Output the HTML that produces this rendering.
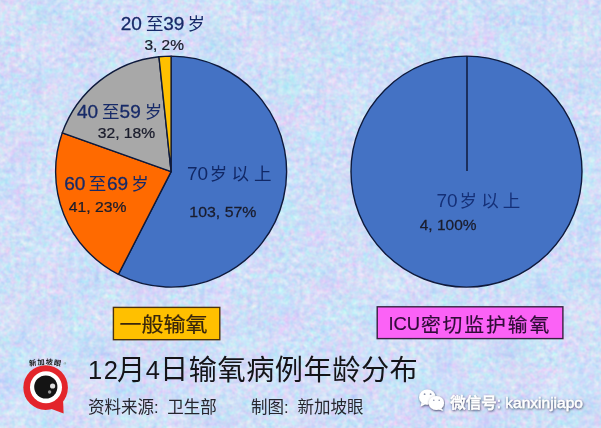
<!DOCTYPE html>
<html lang="zh"><head><meta charset="utf-8"><title>12月4日输氧病例年龄分布</title>
<style>
html,body{margin:0;padding:0;background:#d0dcf7;}
body{width:601px;height:428px;overflow:hidden;position:relative;font-family:"Liberation Sans","Noto Sans CJK SC",sans-serif;}
svg{position:absolute;left:0;top:0;display:block}
text{font-family:"Liberation Sans","Noto Sans CJK SC",sans-serif;}
.kai{font-weight:400;fill:#172a68;stroke:#172a68;stroke-width:0.3px}
.kaic{fill:#172a68}
.kai2{fill:#153078}
.kai3{fill:#112866}
.num{font-family:"Liberation Sans",sans-serif;fill:#1a1c2c;stroke:#1a1c2c;stroke-width:0.25px}
.box1{fill:#38260c;stroke:#38260c;stroke-width:0.2px}
.box2{fill:#300c38;stroke:#300c38;stroke-width:0.2px}
.title{fill:#141418}
.sub{fill:#26262e}
.wm{fill:#fff;font-weight:500;stroke:#fff;stroke-width:0.35px}
.logo{font-weight:700;fill:#1a1a1a}
</style></head><body>
<svg width="601" height="428" viewBox="0 0 601 428">
<defs>
<filter id="noise" x="0" y="0" width="100%" height="100%" color-interpolation-filters="sRGB">
<feTurbulence type="fractalNoise" baseFrequency="0.03" numOctaves="2" seed="11" result="lo"/>
<feTurbulence type="fractalNoise" baseFrequency="0.19" numOctaves="2" seed="3" result="hi"/>
<feComposite in="lo" in2="hi" operator="arithmetic" k1="0" k2="0.35" k3="0.65" k4="0"/>
<feColorMatrix type="matrix" values="0.42 0 0 0 0.602  0 0.30 0 0 0.72  0 0 0.08 0 0.93  0 0 0 0 1"/>
</filter>
<filter id="sh" x="-5%" y="-30%" width="110%" height="160%">
<feDropShadow dx="0.5" dy="0.9" stdDeviation="0.8" flood-color="#3c4262" flood-opacity="1"/>
</filter>
</defs>
<rect width="601" height="428" fill="#d0dcf7"/>
<rect width="601" height="428" filter="url(#noise)"/>
<path d="M171.1,171.6 L171.10,56.10 A115.5,115.5 0 1 1 118.39,274.37 Z" fill="#4472c4" stroke="#0e1a3c" stroke-width="1.4" stroke-linejoin="round"/>
<path d="M171.1,171.6 L118.39,274.37 A115.5,115.5 0 0 1 62.30,132.84 Z" fill="#ff6a00" stroke="#0e1a3c" stroke-width="1.4" stroke-linejoin="round"/>
<path d="M171.1,171.6 L62.30,132.84 A115.5,115.5 0 0 1 158.96,56.74 Z" fill="#a8a8a8" stroke="#0e1a3c" stroke-width="1.4" stroke-linejoin="round"/>
<path d="M171.1,171.6 L158.96,56.74 A115.5,115.5 0 0 1 171.10,56.10 Z" fill="#ffc000" stroke="#0e1a3c" stroke-width="1.4" stroke-linejoin="round"/>
<circle cx="466.5" cy="171.6" r="115.5" fill="#4472c4" stroke="#0e1a3c" stroke-width="1.4"/>
<line x1="467" y1="56.099999999999994" x2="467" y2="171.1" stroke="#0e1a3c" stroke-width="1.5"/>

<rect x="113.4" y="307.4" width="106.4" height="32.3" fill="#ffc000" stroke="#4a3210" stroke-width="1.4"/>
<rect x="377.2" y="306.8" width="185.7" height="31.8" fill="#fb62f6" stroke="#36203f" stroke-width="1.4"/>
<text><tspan class="kai" x="120.75" y="30.20" font-size="19">20</tspan><tspan class="kaic" x="146.05" y="30.20" font-size="17.5">至</tspan><tspan class="kai" x="163.15" y="30.20" font-size="19">39</tspan><tspan class="kaic" x="187.55" y="30.20" font-size="17.5">岁</tspan></text>
<text><tspan class="kai" x="76.95" y="118.40" font-size="19">40</tspan><tspan class="kaic" x="102.05" y="118.40" font-size="17.5">至</tspan><tspan class="kai" x="119.60" y="118.40" font-size="19">59</tspan><tspan class="kaic" x="144.75" y="118.40" font-size="17.5">岁</tspan></text>
<text><tspan class="kai" x="64.15" y="190.20" font-size="19">60</tspan><tspan class="kaic" x="88.80" y="190.20" font-size="17.5">至</tspan><tspan class="kai" x="107.03" y="190.20" font-size="19">69</tspan><tspan class="kaic" x="131.20" y="190.20" font-size="17.5">岁</tspan></text>
<text><tspan class="kai3" x="187.00" y="180.30" font-size="19">70</tspan><tspan class="kai3" x="209.85" y="180.30" font-size="17.5">岁</tspan><tspan class="kai3" x="231.55" y="180.30" font-size="17.5">以</tspan><tspan class="kai3" x="253.93" y="180.30" font-size="17.5">上</tspan></text>
<text><tspan class="kai2" x="436.40" y="206.60" font-size="19">70</tspan><tspan class="kai2" x="459.40" y="206.60" font-size="17.5">岁</tspan><tspan class="kai2" x="481.15" y="206.60" font-size="17.5">以</tspan><tspan class="kai2" x="502.68" y="206.60" font-size="17.5">上</tspan></text>
<text class="num" transform="translate(144.38,49.70) scale(1.0309,1)" font-size="15">3, 2%</text>
<text class="num" transform="translate(97.78,138.10) scale(1.0426,1)" font-size="15">32, 18%</text>
<text class="num" transform="translate(68.74,212.40) scale(1.0488,1)" font-size="15">41, 23%</text>
<text class="num" transform="translate(189.37,216.70) scale(1.0602,1)" font-size="15">103, 57%</text>
<text class="num" transform="translate(419.74,229.60) scale(1.0323,1)" font-size="15">4, 100%</text>
<text class="box1" transform="translate(119.51,332.15) scale(1.0855,1)" font-size="20.3">一般输氧</text>
<text><tspan class="box2" x="388.45" y="329.60" font-size="18.4">ICU</tspan><tspan class="box2" x="420.90" y="331.80" font-size="19.8" letter-spacing="1.95">密切监护输氧</tspan></text>
<text><tspan class="title" x="87.88" y="378.50" font-size="25.5" letter-spacing="1.6">12</tspan><tspan class="title" x="116.97" y="379.60" font-size="28.2">月</tspan><tspan class="title" x="145.70" y="378.50" font-size="25.5">4</tspan><tspan class="title" x="159.95" y="379.40" font-size="28.2">日</tspan><tspan class="title" x="188.75" y="379.80" font-size="28.2" letter-spacing="0.5">输氧病例年龄分布</tspan></text>
<text><tspan class="sub" x="88.12" y="413.30" font-size="16.5">资料来源:</tspan> <tspan class="sub" x="167.28" y="413.30" font-size="16.5">卫生部</tspan> <tspan class="sub" x="250.98" y="413.30" font-size="16.5">制图:</tspan> <tspan class="sub" x="297.50" y="413.30" font-size="16.5">新加坡眼</tspan></text>
<text class="wm" transform="translate(450.24,408.35) scale(1.0337,1)" font-size="15" filter="url(#sh)">微信号: kanxinjiapo</text>

<!-- logo -->
<g>
<circle cx="45.6" cy="387.6" r="22.3" fill="#e3252b"/>
<path d="M49,408 L63.6,413.6 L63,398 Z" fill="#e3252b"/>
<circle cx="46" cy="387.3" r="16" fill="#fff"/>
<circle cx="45.8" cy="387" r="11.6" fill="#141414"/>
<circle cx="52.6" cy="386" r="2.6" fill="#ddd"/>
<circle cx="49.6" cy="392" r="1.7" fill="#999"/>
<path id="arc" d="M25.5,367.4 Q45.5,361.8 65.5,367.4" fill="none"/>
<text class="logo" font-size="7.3" letter-spacing="0.7" text-anchor="middle"><textPath href="#arc" startOffset="50%">新加坡眼</textPath></text>
<text x="63.6" y="365.2" font-size="3.6" fill="#555">®</text>
</g>
<!-- watermark icon -->
<g filter="url(#sh)" fill="#fff">
<ellipse cx="427.3" cy="397.2" rx="8.3" ry="7.6"/>
<path d="M421.5,402.5 L420.6,406.6 L425,404.6 Z"/>
</g>
<g filter="url(#sh)" fill="#fff">
<ellipse cx="436.4" cy="403" rx="7.7" ry="6.9"/>
<path d="M441,408 L443.6,410.8 L438.6,409.6 Z"/>
</g>
<g fill="#8a90a8">
<circle cx="424.6" cy="394.2" r="0.9"/><circle cx="430.6" cy="394.2" r="0.9"/>
<circle cx="433.8" cy="400.2" r="0.8"/><circle cx="439.2" cy="400.2" r="0.8"/>
</g>
</svg>
</body></html>
